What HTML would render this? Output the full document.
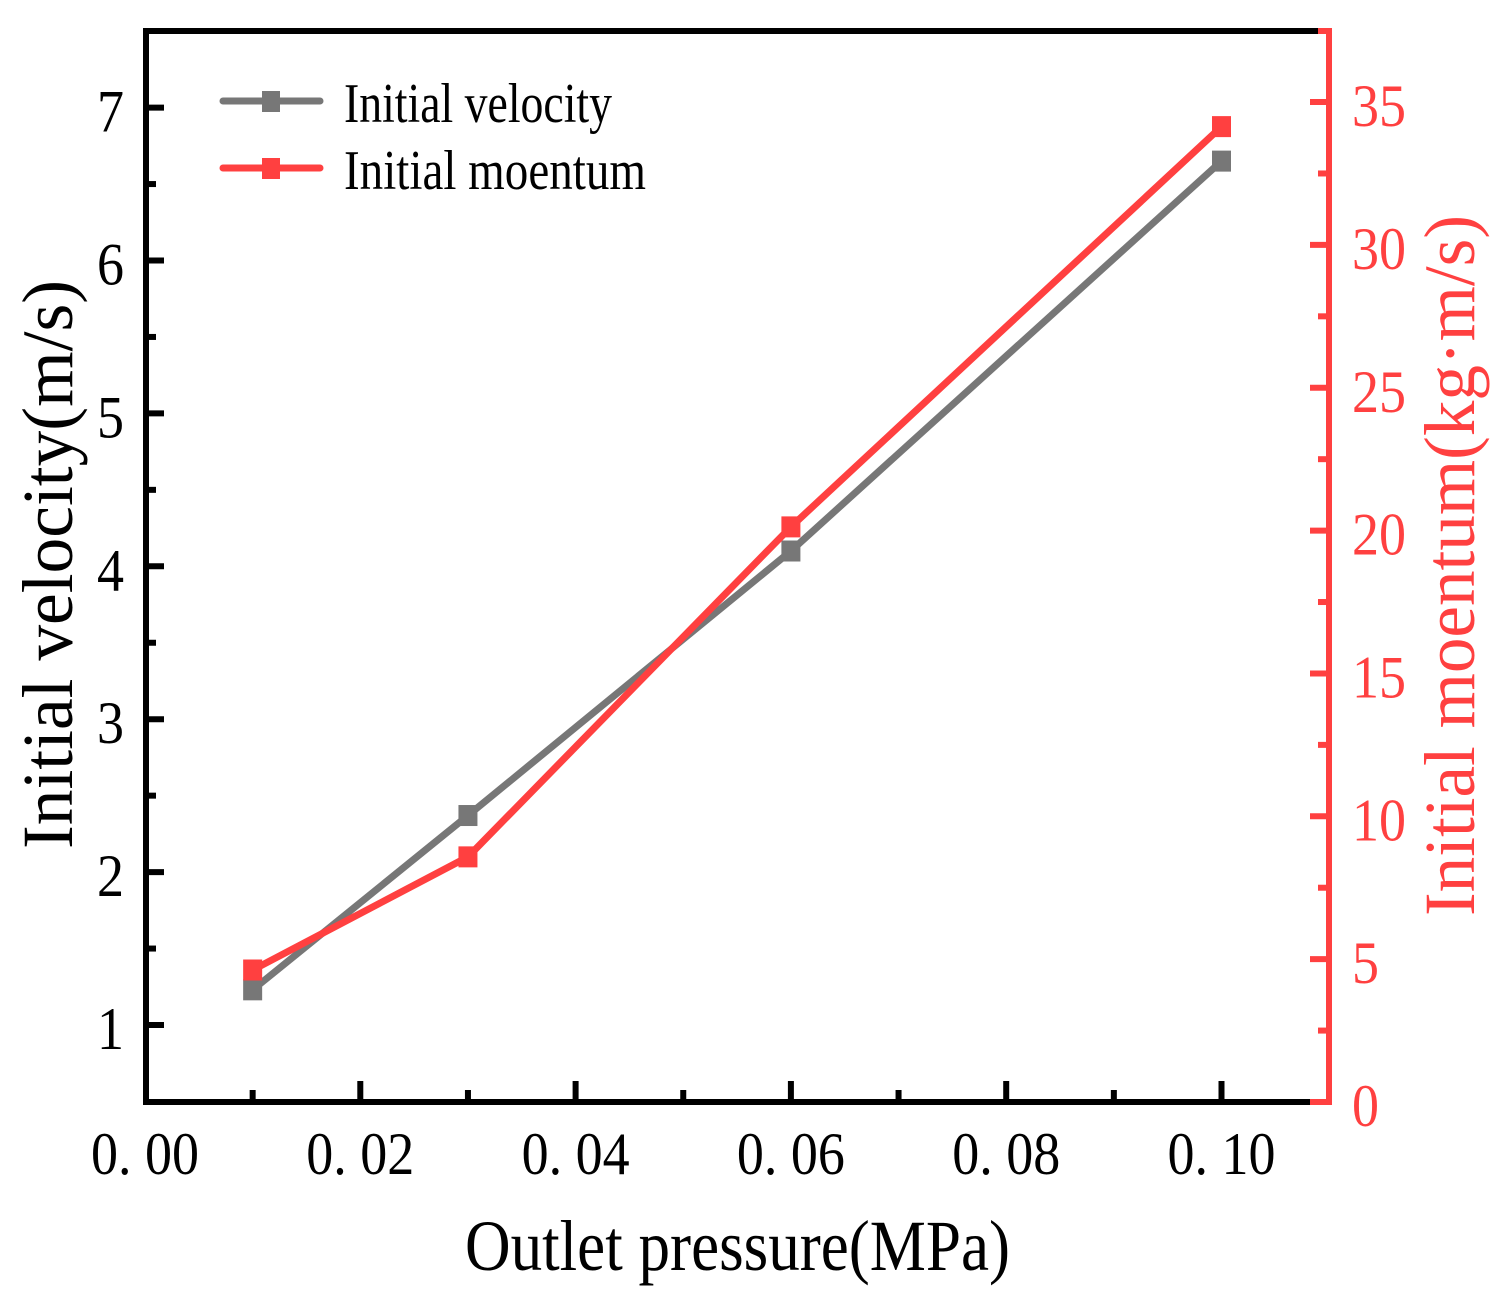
<!DOCTYPE html>
<html lang="en">
<head>
<meta charset="utf-8">
<title>Initial velocity and momentum vs outlet pressure</title>
<style>
html,body{margin:0;padding:0;background:#fff;}
svg{display:block;}
text{font-family:"Liberation Serif",serif;}
</style>
</head>
<body>
<svg id="chart" xmlns="http://www.w3.org/2000/svg" width="1510" height="1295" viewBox="0 0 1510 1295">
  <rect x="0" y="0" width="1510" height="1295" fill="#ffffff"/>
  <g id="marks"></g>
  <g id="axes"></g>
  <text x="465" y="1270" font-size="72" textLength="545" lengthAdjust="spacingAndGlyphs" fill="#000">Outlet pressure(MPa)</text>
  <text transform="translate(72,849) rotate(-90)" x="0" y="0" font-size="72" textLength="569" lengthAdjust="spacingAndGlyphs" fill="#000">Initial velocity(m/s)</text>
  <text transform="translate(1474,916) rotate(-90)" x="0" y="0" font-size="72" textLength="701" lengthAdjust="spacingAndGlyphs" fill="#ff4040">Initial moentum(kg·m/s)</text>
  <g>
    <line x1="223" y1="101" x2="320" y2="101" stroke="#777777" stroke-width="7" stroke-linecap="round"/>
    <rect x="262" y="91" width="18" height="21" fill="#777777"/>
    <text x="344" y="122" font-size="56" textLength="268" lengthAdjust="spacingAndGlyphs" fill="#000">Initial velocity</text>
    <line x1="223" y1="168" x2="320" y2="168" stroke="#ff4040" stroke-width="7" stroke-linecap="round"/>
    <rect x="262" y="158" width="18" height="21" fill="#ff4040"/>
    <text x="344" y="189" font-size="56" textLength="302" lengthAdjust="spacingAndGlyphs" fill="#000">Initial moentum</text>
  </g>
</svg>
<script>
const pressures = [0.01, 0.03, 0.06, 0.10];
const velocityValues = [1.23, 2.37, 4.10, 6.65];
const momentumValues = [4.62, 8.58, 20.13, 34.14];
const xTickValues = [0, 0.02, 0.04, 0.06, 0.08, 0.10];
const xTickLabels = ['0. 00', '0. 02', '0. 04', '0. 06', '0. 08', '0. 10'];
const xMinorTickValues = [0.01, 0.03, 0.05, 0.07, 0.09];
const leftTickValues = [1, 2, 3, 4, 5, 6, 7];
const leftMinorTickValues = [1.5, 2.5, 3.5, 4.5, 5.5, 6.5];
const rightTickValues = [0, 5, 10, 15, 20, 25, 30, 35];
const rightMinorTickValues = [2.5, 7.5, 12.5, 17.5, 22.5, 27.5, 32.5];

const RED = '#ff4040';
const GRAY = '#777777';
const NS = 'http://www.w3.org/2000/svg';
const marks = document.getElementById('marks');
const axes = document.getElementById('axes');

function xPos(v) { return 145 + v * 10765; }
function leftY(v) { return 1025 - (v - 1) * 152.9; }
function rightY(v) { return 1102 - v * 28.57; }

function lineEl(parent, x1, y1, x2, y2, color, width) {
  const el = document.createElementNS(NS, 'line');
  el.setAttribute('x1', x1);
  el.setAttribute('y1', y1);
  el.setAttribute('x2', x2);
  el.setAttribute('y2', y2);
  el.setAttribute('stroke', color);
  el.setAttribute('stroke-width', width);
  parent.appendChild(el);
  return el;
}

function labelEl(parent, x, y, str, color, anchor, widthPx) {
  const el = document.createElementNS(NS, 'text');
  el.setAttribute('x', x);
  el.setAttribute('y', y);
  el.setAttribute('font-size', 60);
  el.setAttribute('fill', color);
  el.setAttribute('text-anchor', anchor);
  el.setAttribute('textLength', widthPx);
  el.setAttribute('lengthAdjust', 'spacingAndGlyphs');
  el.textContent = str;
  parent.appendChild(el);
  return el;
}

function drawSeries(values, yFn, color, key) {
  const poly = document.createElementNS(NS, 'polyline');
  
  
  poly.setAttribute('fill', 'none');
  poly.setAttribute('stroke', color);
  poly.setAttribute('stroke-width', 7);
  poly.setAttribute('stroke-linejoin', 'round');
  poly.setAttribute('points', values.map(function (v, i) { return xPos(pressures[i]) + ',' + yFn(v); }).join(' '));
  marks.appendChild(poly);
  values.forEach(function (v, i) {
    const r = document.createElementNS(NS, 'rect');
    
    
    r.setAttribute('x', xPos(pressures[i]) - 9.5);
    r.setAttribute('y', yFn(v) - 10.5);
    r.setAttribute('width', 19);
    r.setAttribute('height', 21);
    r.setAttribute('fill', color);
    marks.appendChild(r);
  });
}

drawSeries(velocityValues, leftY, GRAY, 'velocity');
drawSeries(momentumValues, rightY, RED, 'momentum');

/* axis spines */
const topSpine = lineEl(axes, 143, 31, 1318, 31, '#000', 6);


const bottomSpine = lineEl(axes, 143, 1102, 1310, 1102, '#000', 6);


const leftSpine = lineEl(axes, 146, 28, 146, 1105, '#000', 6);


const rightSpine = lineEl(axes, 1329, 28, 1329, 1105, RED, 6);


const rightTopCap = lineEl(axes, 1318, 31, 1329, 31, RED, 6);


const rightBottomCap = lineEl(axes, 1310, 1102, 1329, 1102, RED, 6);



/* x axis ticks */
xTickValues.forEach(function (v, i) {
  if (v > 0) {
    const t = lineEl(axes, xPos(v), 1102, xPos(v), 1081, '#000', 6);
    
    
  }
  const l = labelEl(axes, xPos(v), 1174, xTickLabels[i], '#000', 'middle', 108);
  
  
});
xMinorTickValues.forEach(function (v) {
  const t = lineEl(axes, xPos(v), 1102, xPos(v), 1090, '#000', 6);
  
  
});

/* left y axis ticks */
leftTickValues.forEach(function (v) {
  const t = lineEl(axes, 146, leftY(v), 164, leftY(v), '#000', 6);
  
  
  const l = labelEl(axes, 124, leftY(v) + 24, String(v), '#000', 'end', 27);
  
  
});
leftMinorTickValues.forEach(function (v) {
  const t = lineEl(axes, 146, leftY(v), 156, leftY(v), '#000', 6);
  
  
});

/* right y axis ticks */
rightTickValues.forEach(function (v) {
  if (v > 0) {
    const t = lineEl(axes, 1329, rightY(v), 1310, rightY(v), RED, 6);
    
    
  }
  const s = String(v);
  const l = labelEl(axes, 1352, rightY(v) + 24, s, RED, 'start', 27 * s.length);
  
  
});
rightMinorTickValues.forEach(function (v) {
  const t = lineEl(axes, 1329, rightY(v), 1318, rightY(v), RED, 6);
  
  
});
</script>
</body>
</html>
